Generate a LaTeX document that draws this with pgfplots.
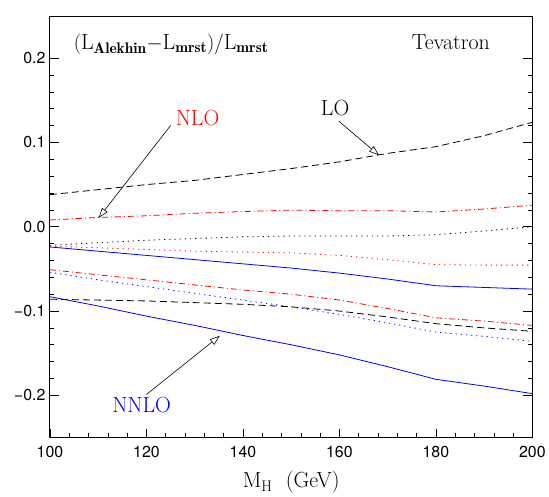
\documentclass[border=0pt]{standalone}
\usepackage{fontspec}
\usepackage{pgfplots}
\pgfplotsset{compat=1.18}
\usetikzlibrary{arrows.meta}
\newfontfamily\heros{TeX Gyre Heros}
\definecolor{plred}{HTML}{FF0000}
\definecolor{plblue}{HTML}{0000FF}

\pgfplotstableread{
x    lo     nlo     dotk    dotr    nnlo    nlob    dotb    lob     nnlob
100  0.038  0.008  -0.022  -0.023  -0.024  -0.051  -0.054  -0.086  -0.083
110  0.044  0.011  -0.019  -0.025  -0.029  -0.057  -0.063  -0.087  -0.094
120  0.050  0.013  -0.016  -0.027  -0.034  -0.063  -0.071  -0.088  -0.106
130  0.055  0.016  -0.014  -0.029  -0.039  -0.069  -0.079  -0.090  -0.117
140  0.062  0.018  -0.012  -0.030  -0.044  -0.075  -0.087  -0.092  -0.129
150  0.069  0.0197 -0.011  -0.031  -0.049  -0.080  -0.095  -0.095  -0.140
160  0.077  0.019  -0.011  -0.034  -0.055  -0.087  -0.104  -0.100  -0.152
170  0.087  0.019  -0.011  -0.039  -0.062  -0.097  -0.114  -0.107  -0.166
180  0.095  0.0175 -0.0095 -0.045  -0.070  -0.108  -0.125  -0.115  -0.181
190  0.108  0.021  -0.005  -0.0455 -0.072  -0.112  -0.130  -0.120  -0.189
200  0.124  0.0256  0.000  -0.0455 -0.074  -0.117  -0.136  -0.124  -0.198
}\curves

\begin{document}
\begin{tikzpicture}
\begin{axis}[
  scale only axis,
  width=483bp, height=422bp,
  xmin=100, xmax=200, ymin=-0.25, ymax=0.25,
  xtick={100,120,140,160,180,200},
  xticklabels={100,120,140,160,180,200},
  ytick={-0.2,-0.1,0,0.1,0.2},
  yticklabels={−0.2,−0.1,0.0,0.1,0.2},
  minor x tick num=4,
  minor y tick num=4,
  xtick pos=left,
  ytick pos=both,
  tick align=inside,
  major tick length=9bp,
  minor tick length=4.5bp,
  tick style={black, line width=0.6bp},
  axis line style={black, line width=0.9bp},
  ticklabel style={font=\heros\fontsize{16}{18}\selectfont},
  yticklabel style={xshift=-1bp},
  xticklabel style={yshift=-5bp},
  xlabel={$\mathrm{M_H}$\ \ (GeV)},
  xlabel style={font=\fontsize{22}{26}\selectfont, yshift=-7bp},
  every axis plot/.append style={line width=0.8bp},
]
\addplot[black, dash pattern=on 7bp off 4bp] table[x=x, y=lo] {\curves};
\addplot[plred, dash pattern=on 6bp off 3bp on 1bp off 3bp] table[x=x, y=nlo] {\curves};
\addplot[black, dash pattern=on 1.2bp off 4bp] table[x=x, y=dotk] {\curves};
\addplot[plred, dash pattern=on 1.2bp off 4bp] table[x=x, y=dotr] {\curves};
\addplot[plblue] table[x=x, y=nnlo] {\curves};
\addplot[plred, dash pattern=on 6bp off 3bp on 1bp off 3bp] table[x=x, y=nlob] {\curves};
\addplot[plblue, dash pattern=on 1.2bp off 4bp] table[x=x, y=dotb] {\curves};
\addplot[black, dash pattern=on 7bp off 4bp] table[x=x, y=lob] {\curves};
\addplot[plblue] table[x=x, y=nnlob] {\curves};

\draw[line width=0.6bp, -{Triangle[open, length=10bp, width=7bp]}] (125,0.12) -- (110.1,0.0106);
\draw[line width=0.6bp, -{Triangle[open, length=10bp, width=7bp]}] (159.9,0.125) -- (168.2,0.0848);
\draw[line width=0.6bp, -{Triangle[open, length=10bp, width=7bp]}] (120.0,-0.199) -- (135.2,-0.1294);

\node[font=\fontsize{22}{26}\selectfont, text=plred] at (130.6,0.129) {NLO};
\node[font=\fontsize{22}{26}\selectfont] at (159.1,0.141) {LO};
\node[font=\fontsize{22}{26}\selectfont, text=plblue] at (119.0,-0.211) {NNLO};
\node[font=\fontsize{22}{26}\selectfont] at (125.1,0.216)
  {$(\mathrm{L}_{\mathbf{Alekhin}}{-}\mathrm{L}_{\mathbf{mrst}})/\mathrm{L}_{\mathbf{mrst}}$};
\node[font=\fontsize{22}{26}\selectfont] at (183.1,0.219) {Tevatron};
\end{axis}
\path[use as bounding box] ([shift={(-50bp,-52bp)}]current axis.south west)
  rectangle ([shift={(16bp,16bp)}]current axis.north east);
\end{tikzpicture}
\end{document}
